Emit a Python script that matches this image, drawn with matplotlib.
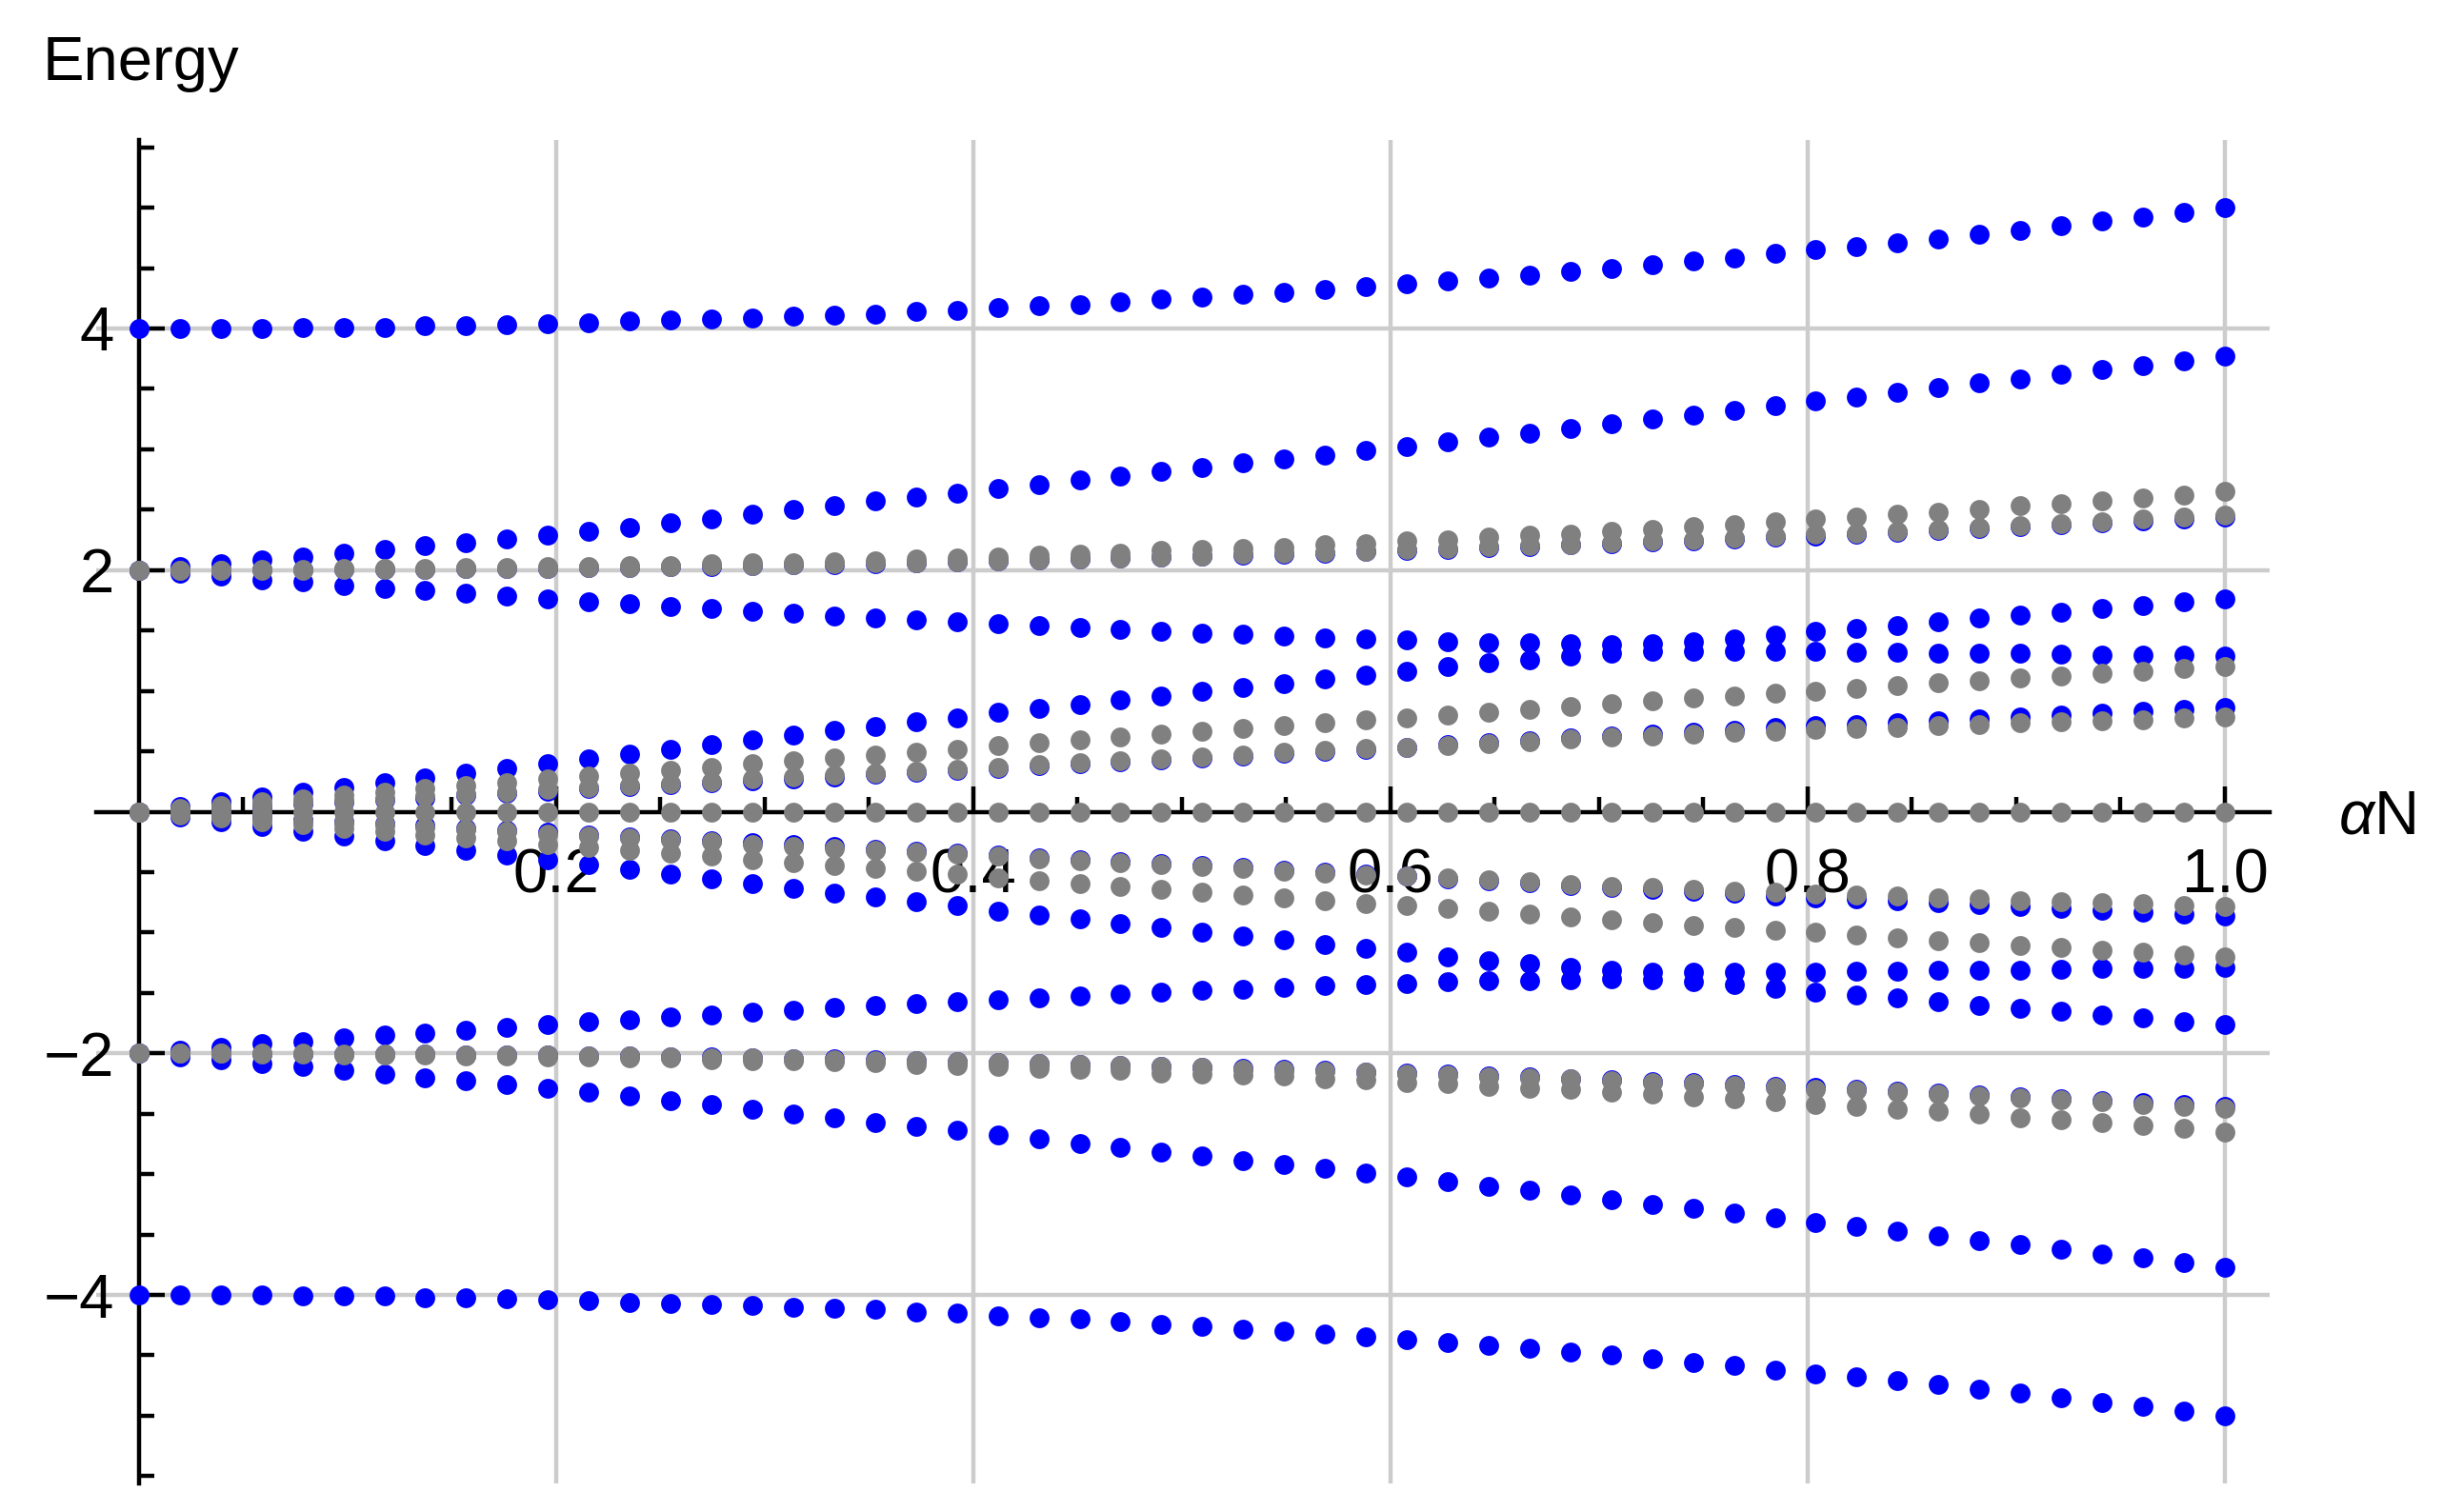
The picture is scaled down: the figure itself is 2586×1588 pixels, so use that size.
import matplotlib
matplotlib.use("Agg")
import matplotlib.pyplot as plt
import numpy as np
from matplotlib.ticker import FixedLocator

BLUE = "#0000ff"
GREY = "#808080"
GRID = "#cccccc"
INK = "black"

plt.rcParams.update({
    "font.family": "Liberation Sans",
    "font.size": 23.5,
    "mathtext.fontset": "custom",
    "mathtext.rm": "Liberation Sans",
    "mathtext.it": "Liberation Sans:italic",
    "axes.unicode_minus": True,
})

# sample grid (52 evenly spaced values of alpha*N)
ALPHA_N = np.linspace(0.0, 1.0, 52)

# ---- blue levels, upper half ----
BLUE_4 = [4.00, 4.00, 4.00, 4.00, 4.01, 4.01, 4.01, 4.02, 4.02, 4.03, 4.04, 4.05, 4.06,
          4.07, 4.08, 4.09, 4.10, 4.11, 4.12, 4.14, 4.15, 4.17, 4.19, 4.20, 4.22, 4.24,
          4.26, 4.28, 4.30, 4.32, 4.35, 4.37, 4.39, 4.42, 4.44, 4.47, 4.50, 4.53, 4.56,
          4.58, 4.62, 4.65, 4.68, 4.71, 4.74, 4.78, 4.81, 4.85, 4.89, 4.92, 4.96, 5.00]
BLUE_2_UP = [2.00, 2.03, 2.055, 2.085, 2.11, 2.14, 2.17, 2.20, 2.23, 2.26, 2.29, 2.32, 2.355,
             2.39, 2.425, 2.46, 2.50, 2.535, 2.57, 2.605, 2.64, 2.675, 2.71, 2.745, 2.78, 2.815,
             2.85, 2.885, 2.92, 2.955, 2.99, 3.025, 3.06, 3.10, 3.135, 3.175, 3.21, 3.25, 3.285,
             3.325, 3.36, 3.40, 3.435, 3.475, 3.51, 3.55, 3.585, 3.62, 3.66, 3.695, 3.735, 3.77]
BLUE_2_DOWN = [2.00, 1.975, 1.95, 1.92, 1.90, 1.875, 1.85, 1.83, 1.805, 1.785, 1.76, 1.74, 1.72,
               1.70, 1.68, 1.66, 1.64, 1.62, 1.605, 1.585, 1.57, 1.555, 1.54, 1.525, 1.51, 1.495,
               1.48, 1.47, 1.455, 1.44, 1.43, 1.42, 1.41, 1.40, 1.40, 1.39, 1.38, 1.39, 1.41,
               1.43, 1.465, 1.49, 1.515, 1.54, 1.57, 1.60, 1.63, 1.65, 1.68, 1.71, 1.74, 1.76]
BLUE_2_FLAT = [2.000, 2.000, 2.001, 2.002, 2.003, 2.004, 2.006, 2.008, 2.011, 2.014, 2.017, 2.020,
               2.024, 2.029, 2.033, 2.038, 2.043, 2.049, 2.055, 2.061, 2.068, 2.075, 2.082, 2.089,
               2.097, 2.106, 2.114, 2.123, 2.133, 2.142, 2.152, 2.163, 2.173, 2.184, 2.196, 2.207,
               2.219, 2.232, 2.244, 2.257, 2.271, 2.284, 2.298, 2.313, 2.327, 2.343, 2.358, 2.374,
               2.390, 2.406, 2.423, 2.440]
BLUE_0_UP = [0.00, 0.04, 0.08, 0.125, 0.165, 0.20, 0.24, 0.28, 0.32, 0.36, 0.40, 0.44, 0.48,
             0.52, 0.553, 0.595, 0.635, 0.67, 0.705, 0.745, 0.78, 0.82, 0.855, 0.89, 0.925, 0.96,
             0.995, 1.03, 1.06, 1.10, 1.13, 1.165, 1.20, 1.23, 1.26, 1.29, 1.31, 1.33, 1.33,
             1.33, 1.325, 1.325, 1.32, 1.32, 1.31, 1.31, 1.31, 1.305, 1.30, 1.295, 1.295, 1.29]
BLUE_0_LOW = [0.00, 0.01, 0.028, 0.046, 0.064, 0.082, 0.10, 0.117, 0.135, 0.153, 0.172, 0.19, 0.21,
              0.226, 0.24, 0.26, 0.275, 0.29, 0.31, 0.325, 0.34, 0.36, 0.38, 0.395, 0.41, 0.43,
              0.445, 0.463, 0.485, 0.50, 0.52, 0.535, 0.553, 0.572, 0.59, 0.61, 0.627, 0.645, 0.66,
              0.677, 0.695, 0.71, 0.725, 0.74, 0.755, 0.77, 0.785, 0.80, 0.815, 0.83, 0.845, 0.86]

# ---- blue levels, lower half ----
BLUE_M4 = [-4.00, -4.00, -4.00, -4.00, -4.01, -4.01, -4.01, -4.02, -4.02, -4.03, -4.04, -4.05, -4.06,
           -4.07, -4.08, -4.09, -4.10, -4.11, -4.12, -4.14, -4.15, -4.17, -4.19, -4.20, -4.22, -4.24,
           -4.26, -4.28, -4.30, -4.32, -4.35, -4.37, -4.39, -4.42, -4.44, -4.47, -4.50, -4.53, -4.56,
           -4.58, -4.62, -4.65, -4.68, -4.71, -4.74, -4.78, -4.81, -4.85, -4.89, -4.92, -4.96, -5.00]
BLUE_M2_DOWN = [-2.00, -2.03, -2.055, -2.085, -2.11, -2.14, -2.17, -2.20, -2.23, -2.26, -2.29, -2.32,
                -2.355, -2.39, -2.425, -2.46, -2.50, -2.535, -2.57, -2.605, -2.64, -2.675, -2.71,
                -2.745, -2.78, -2.815, -2.85, -2.885, -2.92, -2.955, -2.99, -3.025, -3.06, -3.10,
                -3.135, -3.175, -3.21, -3.25, -3.285, -3.325, -3.36, -3.40, -3.435, -3.475, -3.51,
                -3.55, -3.585, -3.62, -3.66, -3.695, -3.735, -3.77]
BLUE_M2_UP = [-2.00, -1.975, -1.95, -1.92, -1.90, -1.875, -1.85, -1.83, -1.805, -1.785, -1.76, -1.74,
              -1.72, -1.70, -1.68, -1.66, -1.64, -1.62, -1.605, -1.585, -1.57, -1.555, -1.54, -1.525,
              -1.51, -1.495, -1.48, -1.47, -1.455, -1.44, -1.43, -1.42, -1.41, -1.40, -1.40, -1.39,
              -1.38, -1.39, -1.41, -1.43, -1.465, -1.49, -1.515, -1.54, -1.57, -1.60, -1.63, -1.65,
              -1.68, -1.71, -1.74, -1.76]
BLUE_M2_FLAT = [-2.000, -2.000, -2.001, -2.002, -2.003, -2.004, -2.006, -2.008, -2.011, -2.014,
                -2.017, -2.020, -2.024, -2.029, -2.033, -2.038, -2.043, -2.049, -2.055, -2.061,
                -2.068, -2.075, -2.082, -2.089, -2.097, -2.106, -2.114, -2.123, -2.133, -2.142,
                -2.152, -2.163, -2.173, -2.184, -2.196, -2.207, -2.219, -2.232, -2.244, -2.257,
                -2.271, -2.284, -2.298, -2.313, -2.327, -2.343, -2.358, -2.374, -2.390, -2.406,
                -2.423, -2.440]
BLUE_M0_DOWN = [0.00, -0.04, -0.08, -0.125, -0.165, -0.20, -0.24, -0.28, -0.32, -0.36, -0.40, -0.44,
                -0.48, -0.52, -0.553, -0.595, -0.635, -0.67, -0.705, -0.745, -0.78, -0.82, -0.855,
                -0.89, -0.925, -0.96, -0.995, -1.03, -1.06, -1.10, -1.13, -1.165, -1.20, -1.23,
                -1.26, -1.29, -1.31, -1.33, -1.33, -1.33, -1.325, -1.325, -1.32, -1.32, -1.31,
                -1.31, -1.31, -1.305, -1.30, -1.295, -1.295, -1.29]
BLUE_M0_LOW = [0.00, -0.01, -0.028, -0.046, -0.064, -0.082, -0.10, -0.117, -0.135, -0.153, -0.172,
               -0.19, -0.21, -0.226, -0.24, -0.26, -0.275, -0.29, -0.31, -0.325, -0.34, -0.36, -0.38,
               -0.395, -0.41, -0.43, -0.445, -0.463, -0.485, -0.50, -0.52, -0.535, -0.553, -0.572,
               -0.59, -0.61, -0.627, -0.645, -0.66, -0.677, -0.695, -0.71, -0.725, -0.74, -0.755,
               -0.77, -0.785, -0.80, -0.815, -0.83, -0.845, -0.86]

# ---- grey levels ----
GREY_ZERO = [0.0, 0.0, 0.0, 0.0, 0.0, 0.0, 0.0, 0.0, 0.0, 0.0, 0.0, 0.0, 0.0,
             0.0, 0.0, 0.0, 0.0, 0.0, 0.0, 0.0, 0.0, 0.0, 0.0, 0.0, 0.0, 0.0,
             0.0, 0.0, 0.0, 0.0, 0.0, 0.0, 0.0, 0.0, 0.0, 0.0, 0.0, 0.0, 0.0,
             0.0, 0.0, 0.0, 0.0, 0.0, 0.0, 0.0, 0.0, 0.0, 0.0, 0.0, 0.0, 0.0]
GREY_2_UP = [2.00, 2.00, 2.00, 2.00, 2.00, 2.01, 2.01, 2.01, 2.02, 2.02, 2.03, 2.03, 2.04,
             2.04, 2.05, 2.06, 2.06, 2.07, 2.08, 2.09, 2.10, 2.11, 2.12, 2.13, 2.14, 2.16,
             2.17, 2.18, 2.19, 2.21, 2.22, 2.24, 2.25, 2.27, 2.29, 2.30, 2.32, 2.34, 2.36,
             2.38, 2.40, 2.42, 2.44, 2.46, 2.48, 2.50, 2.53, 2.55, 2.57, 2.60, 2.62, 2.65]
GREY_2_LOW = [2.000, 2.000, 2.001, 2.002, 2.003, 2.004, 2.006, 2.009, 2.011, 2.014, 2.017, 2.021,
              2.025, 2.030, 2.034, 2.039, 2.045, 2.051, 2.057, 2.063, 2.070, 2.077, 2.085, 2.093,
              2.101, 2.109, 2.118, 2.128, 2.137, 2.147, 2.157, 2.168, 2.179, 2.191, 2.202, 2.214,
              2.227, 2.239, 2.253, 2.266, 2.280, 2.294, 2.309, 2.323, 2.339, 2.354, 2.370, 2.386,
              2.403, 2.420, 2.437, 2.455]
GREY_0_UP = [0.00, 0.03, 0.055, 0.085, 0.11, 0.135, 0.16, 0.19, 0.215, 0.24, 0.27, 0.295, 0.32,
             0.345, 0.37, 0.395, 0.42, 0.445, 0.47, 0.495, 0.52, 0.545, 0.57, 0.593, 0.617, 0.64,
             0.664, 0.688, 0.711, 0.734, 0.757, 0.78, 0.803, 0.826, 0.848, 0.871, 0.893, 0.915,
             0.938, 0.96, 0.981, 1.00, 1.022, 1.044, 1.065, 1.086, 1.106, 1.126, 1.146, 1.166,
             1.186, 1.205]
GREY_0_LOW = [0.00, 0.018, 0.036, 0.055, 0.073, 0.091, 0.109, 0.127, 0.145, 0.165, 0.185, 0.20,
              0.22, 0.236, 0.25, 0.27, 0.285, 0.30, 0.32, 0.335, 0.35, 0.37, 0.39, 0.405, 0.42,
              0.44, 0.455, 0.47, 0.49, 0.505, 0.525, 0.535, 0.55, 0.565, 0.58, 0.60, 0.615, 0.625,
              0.64, 0.655, 0.665, 0.68, 0.69, 0.70, 0.71, 0.72, 0.735, 0.745, 0.755, 0.76, 0.775,
              0.785]
GREY_M2_DOWN = [-2.00, -2.00, -2.00, -2.00, -2.00, -2.01, -2.01, -2.01, -2.02, -2.02, -2.03, -2.03,
                -2.04, -2.04, -2.05, -2.06, -2.06, -2.07, -2.08, -2.09, -2.10, -2.11, -2.12, -2.13,
                -2.14, -2.16, -2.17, -2.18, -2.19, -2.21, -2.22, -2.24, -2.25, -2.27, -2.29, -2.30,
                -2.32, -2.34, -2.36, -2.38, -2.40, -2.42, -2.44, -2.46, -2.48, -2.50, -2.53, -2.55,
                -2.57, -2.60, -2.62, -2.65]
GREY_M2_UP = [-2.000, -2.000, -2.001, -2.002, -2.003, -2.004, -2.006, -2.009, -2.011, -2.014,
              -2.017, -2.021, -2.025, -2.030, -2.034, -2.039, -2.045, -2.051, -2.057, -2.063,
              -2.070, -2.077, -2.085, -2.093, -2.101, -2.109, -2.118, -2.128, -2.137, -2.147,
              -2.157, -2.168, -2.179, -2.191, -2.202, -2.214, -2.227, -2.239, -2.253, -2.266,
              -2.280, -2.294, -2.309, -2.323, -2.339, -2.354, -2.370, -2.386, -2.403, -2.420,
              -2.437, -2.455]
GREY_M0_DOWN = [0.00, -0.03, -0.055, -0.085, -0.11, -0.135, -0.16, -0.19, -0.215, -0.24, -0.27,
                -0.295, -0.32, -0.345, -0.37, -0.395, -0.42, -0.445, -0.47, -0.495, -0.52, -0.545,
                -0.57, -0.593, -0.617, -0.64, -0.664, -0.688, -0.711, -0.734, -0.757, -0.78, -0.803,
                -0.826, -0.848, -0.871, -0.893, -0.915, -0.938, -0.96, -0.981, -1.00, -1.022,
                -1.044, -1.065, -1.086, -1.106, -1.126, -1.146, -1.166, -1.186, -1.205]
GREY_M0_LOW = [0.00, -0.018, -0.036, -0.055, -0.073, -0.091, -0.109, -0.127, -0.145, -0.165, -0.185,
               -0.20, -0.22, -0.236, -0.25, -0.27, -0.285, -0.30, -0.32, -0.335, -0.35, -0.37,
               -0.39, -0.405, -0.42, -0.44, -0.455, -0.47, -0.49, -0.505, -0.525, -0.535, -0.55,
               -0.565, -0.58, -0.60, -0.615, -0.625, -0.64, -0.655, -0.665, -0.68, -0.69, -0.70,
               -0.71, -0.72, -0.735, -0.745, -0.755, -0.76, -0.775, -0.785]

BLUE_LEVELS = [BLUE_4, BLUE_2_UP, BLUE_2_DOWN, BLUE_2_FLAT, BLUE_0_UP, BLUE_0_LOW,
               BLUE_M4, BLUE_M2_DOWN, BLUE_M2_UP, BLUE_M2_FLAT, BLUE_M0_DOWN, BLUE_M0_LOW]
GREY_LEVELS = [GREY_ZERO, GREY_2_UP, GREY_2_LOW, GREY_0_UP, GREY_0_LOW,
               GREY_M2_DOWN, GREY_M2_UP, GREY_M0_DOWN, GREY_M0_LOW]

X_MAJOR = [0.2, 0.4, 0.6, 0.8, 1.0]
X_LABELS = ["0.2", "0.4", "0.6", "0.8", "1.0"]
Y_MAJOR = [-4, -2, 2, 4]
Y_LABELS = ["\u22124", "\u22122", "2", "4"]

W, H = 2586, 1588
fig = plt.figure(figsize=(W / 200, H / 200), dpi=200)
ax = fig.add_axes([101 / W, (H - 1558) / H, (2383 - 101) / W, (1558 - 147) / H])

for ys in BLUE_LEVELS:
    ax.plot(ALPHA_N, ys, ls="none", marker="o", ms=7.5, mew=0, color=BLUE,
            zorder=3, clip_on=False)
for ys in GREY_LEVELS:
    ax.plot(ALPHA_N, ys, ls="none", marker="o", ms=7.5, mew=0, color=GREY,
            zorder=4, clip_on=False)

ax.set_xlim(-0.0205, 1.0215)
ax.set_ylim(-5.56, 5.56)

for s in ("top", "right"):
    ax.spines[s].set_visible(False)
ax.spines["left"].set_position(("data", 0))
ax.spines["bottom"].set_position(("data", 0))
for s in ("left", "bottom"):
    ax.spines[s].set_linewidth(1.6)
    ax.spines[s].set_color(INK)

ax.set_xticks(X_MAJOR)
ax.set_xticklabels(X_LABELS)
ax.set_yticks(Y_MAJOR)
ax.set_yticklabels(Y_LABELS)
ax.xaxis.set_minor_locator(FixedLocator([v for v in np.arange(0.05, 1.01, 0.05)
                                         if abs(v / 0.2 - round(v / 0.2)) > 1e-6]))
ax.yaxis.set_minor_locator(FixedLocator([v for v in np.arange(-5.5, 5.51, 0.5)
                                         if v % 2 != 0]))
ax.tick_params(which="both", direction="in", width=1.6, color=INK, labelsize=23.5)
ax.tick_params(which="major", length=9.7)
ax.tick_params(which="minor", length=5.8)
ax.tick_params(axis="x", pad=13.5)
ax.tick_params(axis="y", pad=9.4)

ax.grid(True, which="major", color=GRID, linewidth=1.6)
ax.set_axisbelow(True)

fig.text(45 / W, 1 - 84 / H, "Energy", ha="left", va="baseline", fontsize=23.5)
fig.text(2455 / W, 1 - 876 / H, r"$\alpha$N", ha="left", va="baseline", fontsize=23.5)

fig.savefig("out.png", dpi=200)
